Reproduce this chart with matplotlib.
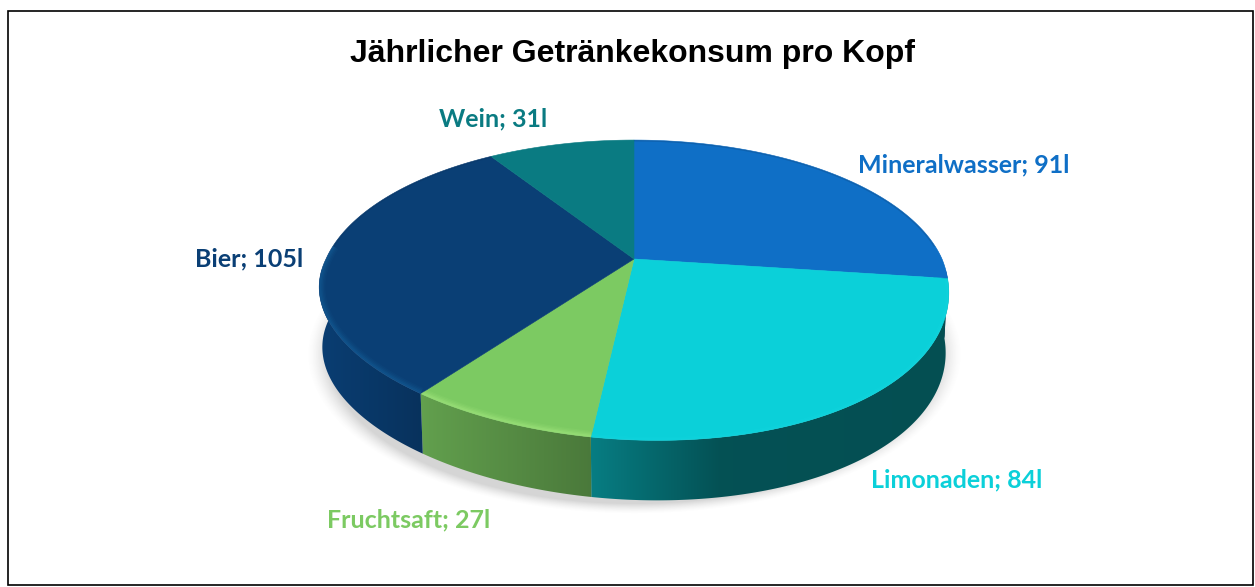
# -*- coding: utf-8 -*-
import numpy as np
import matplotlib
matplotlib.use("Agg")
import matplotlib.pyplot as plt
from matplotlib.patches import Polygon, Rectangle
from matplotlib.colors import to_rgb

kategorien = ["Mineralwasser", "Limonaden", "Fruchtsaft", "Bier", "Wein"]
liter = [91, 84, 27, 105, 31]
farben = ["#0F6FC6", "#0BD0D9", "#7CCA62", "#0A3F75", "#0A7B82"]
rand_hell = ["#0F6FC6", "#14D8E2", "#B4F48C", "#1A6AA8", "#0A7B82"]
label_pos = [(964, 165), (957, 480), (409, 520), (249, 259), (493, 119)]

# geometry of the tilted disc, in pixels
cx, cy = 634, 259
k = 308.0
a, c = -90.0, 0.2067
hoehe = 60
schrumpf = 0.99
ell_y = 289
schief = 14.0


def oben(theta):
    # theta clockwise from 12 o'clock, perspective view of the unit circle
    u, v = np.sin(theta), np.cos(theta)
    w = c * v + 1
    return cx + k * u / w, (a * v + cy) / w + schief * u * np.maximum(-v, 0)


def unten(theta):
    x, y = oben(theta)
    return cx + (x - cx) * schrumpf, y + hoehe


def schatten(x):
    return np.interp(x, [318, 430, 592, 720, 950], [0.98, 0.78, 0.60, 0.39, 0.38])


fig = plt.figure(figsize=(12.55, 5.87), dpi=100)
ax = fig.add_axes([0, 0, 1, 1])

# soft shadow under the disc
xx, yy = np.meshgrid(np.arange(280, 990), np.arange(200, 540))
r = np.sqrt(((xx - cx) / 312.0) ** 2 + ((yy - (ell_y + hoehe + 5)) / 152.0) ** 2)
alpha = np.clip((1.05 - r) / 0.07, 0, 1) ** 1.5 * 0.3
bild = np.zeros(xx.shape + (4,))
bild[..., :3] = 0.45
bild[..., 3] = alpha
ax.imshow(bild, extent=(280, 990, 540, 200), aspect="auto", zorder=1)

grenzen = np.concatenate([[0], np.cumsum(liter)]) / np.sum(liter) * 2 * np.pi

# side wall, shaded along x
for i in range(len(liter)):
    t = np.linspace(grenzen[i], grenzen[i + 1], 200)
    t = t[(t > np.pi * 0.47) & (t < np.pi * 1.53)]
    if len(t) < 2:
        continue
    x1, y1 = oben(t)
    x2, y2 = unten(t)
    poly = Polygon(np.vstack([np.c_[x1, y1], np.c_[x2, y2][::-1]]), closed=True,
                   transform=ax.transData, fc="none", ec="none")
    ax.add_patch(poly)
    xs = np.arange(int(min(x1.min(), x2.min())) - 1, int(max(x1.max(), x2.max())) + 2)
    streifen = np.outer(schatten(xs), to_rgb(farben[i]))[None, :, :]
    im = ax.imshow(streifen, extent=(xs[0], xs[-1], 510, 270), aspect="auto", zorder=2,
                   interpolation="bilinear")
    im.set_clip_path(poly)

# top surface
for i in range(len(liter)):
    t = np.linspace(grenzen[i], grenzen[i + 1], 200)
    x1, y1 = oben(t)
    pts = np.vstack([[cx, cy], np.c_[x1, y1]])
    keil = Polygon(pts, closed=True, fc=farben[i], ec=farben[i], lw=0.4, zorder=3)
    ax.add_patch(keil)

    # bevel along the front rim, dark rim at the back
    maske = (t > np.pi * 0.47) & (t < np.pi * 1.53)
    for lw, al in [(9, 0.08), (7, 0.10), (5, 0.14), (3, 0.18)]:
        if maske.sum() > 1:
            l, = ax.plot(x1[maske], y1[maske], color=rand_hell[i], lw=lw, alpha=al,
                         zorder=4, solid_capstyle="butt")
            l.set_clip_path(keil)
    if (~maske).sum() > 1 and i in (0, 1, 3):
        l, = ax.plot(x1[~maske], y1[~maske], color="#0A2A50", lw=2, alpha=0.2, zorder=4)
        l.set_clip_path(keil)

for i in range(len(liter)):
    ax.text(label_pos[i][0], label_pos[i][1], "%s; %dl" % (kategorien[i], liter[i]),
            color=farben[i], fontsize=18, fontweight="bold", family="Lato",
            ha="center", va="center", zorder=6)

ax.text(632, 54, "Jährlicher Getränkekonsum pro Kopf", fontsize=23, fontweight="bold",
        family="Liberation Sans", ha="center", va="center", color="black", zorder=6)

ax.add_patch(Rectangle((8, 11), 1245, 574, fc="none", ec="black", lw=1.2, zorder=7))

ax.set_xlim(0, 1255)
ax.set_ylim(587, 0)
ax.axis("off")
fig.savefig("out.png", dpi=100, facecolor="white")
